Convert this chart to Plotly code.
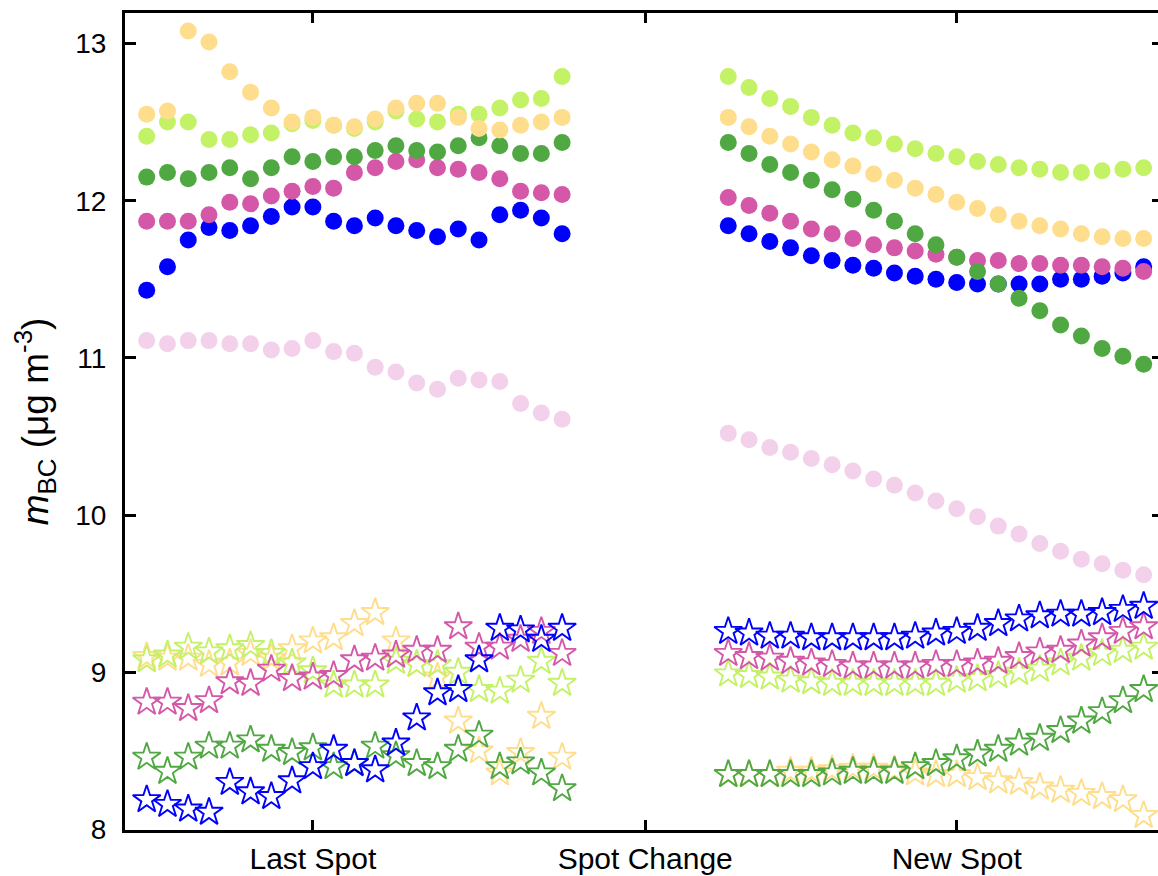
import plotly.graph_objects as go

# x positions (sample index) for the two measurement windows
x_last = list(range(0, 21))
x_new = list(range(28, 49))
tick_vals = [8, 24, 39]
tick_text = ["Last Spot", "Spot Change", "New Spot"]
y_ticks = [8, 9, 10, 11, 12, 13]

# ---- filled circles ----
blue_circ_last = [11.43, 11.58, 11.75, 11.83, 11.81, 11.84, 11.90, 11.96, 11.96, 11.87, 11.84, 11.89, 11.84, 11.81, 11.77, 11.82, 11.75, 11.91, 11.94, 11.89, 11.79]
blue_circ_new = [11.84, 11.79, 11.74, 11.70, 11.65, 11.62, 11.59, 11.57, 11.54, 11.52, 11.50, 11.48, 11.47, 11.47, 11.47, 11.47, 11.50, 11.50, 11.52, 11.54, 11.58]
mag_circ_last = [11.87, 11.87, 11.87, 11.91, 11.99, 11.98, 12.03, 12.06, 12.09, 12.08, 12.18, 12.21, 12.25, 12.26, 12.21, 12.20, 12.18, 12.14, 12.06, 12.05, 12.04]
mag_circ_new = [12.02, 11.97, 11.92, 11.87, 11.82, 11.79, 11.76, 11.72, 11.70, 11.68, 11.66, 11.64, 11.62, 11.62, 11.60, 11.60, 11.59, 11.59, 11.58, 11.57, 11.55]
dgreen_circ_last = [12.15, 12.18, 12.14, 12.18, 12.21, 12.14, 12.21, 12.28, 12.25, 12.28, 12.28, 12.32, 12.35, 12.32, 12.31, 12.35, 12.40, 12.35, 12.30, 12.30, 12.37]
dgreen_circ_new = [12.37, 12.30, 12.23, 12.18, 12.13, 12.07, 12.01, 11.94, 11.87, 11.79, 11.72, 11.64, 11.55, 11.47, 11.38, 11.30, 11.21, 11.14, 11.06, 11.01, 10.96]
lgreen_circ_last = [12.41, 12.50, 12.50, 12.39, 12.39, 12.42, 12.43, 12.49, 12.51, 12.48, 12.46, 12.50, 12.57, 12.52, 12.50, 12.55, 12.55, 12.59, 12.64, 12.65, 12.79]
lgreen_circ_new = [12.79, 12.72, 12.65, 12.60, 12.53, 12.48, 12.43, 12.40, 12.36, 12.33, 12.30, 12.28, 12.25, 12.23, 12.21, 12.20, 12.18, 12.18, 12.19, 12.20, 12.21]
orange_circ_last = [12.55, 12.57, 13.08, 13.01, 12.82, 12.69, 12.59, 12.50, 12.53, 12.48, 12.47, 12.52, 12.59, 12.62, 12.62, 12.53, 12.46, 12.45, 12.48, 12.50, 12.53]
orange_circ_new = [12.53, 12.47, 12.41, 12.36, 12.31, 12.26, 12.22, 12.17, 12.13, 12.08, 12.04, 11.99, 11.95, 11.91, 11.87, 11.84, 11.82, 11.79, 11.77, 11.76, 11.76]
pink_circ_last = [11.11, 11.09, 11.11, 11.11, 11.09, 11.09, 11.05, 11.06, 11.11, 11.04, 11.03, 10.94, 10.91, 10.84, 10.80, 10.87, 10.86, 10.85, 10.71, 10.65, 10.61]
pink_circ_new = [10.52, 10.48, 10.43, 10.40, 10.36, 10.32, 10.28, 10.23, 10.19, 10.14, 10.09, 10.04, 9.99, 9.93, 9.88, 9.82, 9.77, 9.72, 9.69, 9.65, 9.62]

# ---- open stars ----
blue_star_last = [8.19, 8.16, 8.13, 8.11, 8.30, 8.24, 8.21, 8.31, 8.40, 8.51, 8.42, 8.38, 8.55, 8.71, 8.87, 8.89, 9.08, 9.28, 9.27, 9.21, 9.28]
blue_star_new = [9.26, 9.25, 9.23, 9.23, 9.22, 9.22, 9.22, 9.22, 9.22, 9.23, 9.25, 9.26, 9.28, 9.31, 9.34, 9.36, 9.37, 9.37, 9.38, 9.40, 9.42]
mag_star_last = [8.81, 8.81, 8.77, 8.82, 8.94, 8.93, 9.02, 8.96, 8.97, 8.98, 9.08, 9.09, 9.11, 9.14, 9.14, 9.29, 9.16, 9.16, 9.21, 9.26, 9.12]
mag_star_new = [9.12, 9.10, 9.09, 9.07, 9.06, 9.05, 9.04, 9.04, 9.04, 9.04, 9.05, 9.05, 9.06, 9.07, 9.10, 9.13, 9.14, 9.18, 9.22, 9.26, 9.29]
lgreen_star_last = [9.08, 9.11, 9.16, 9.13, 9.15, 9.17, 9.12, 9.06, 9.01, 8.92, 8.92, 8.92, 9.07, 9.05, 9.05, 9.00, 8.89, 8.88, 8.95, 9.07, 8.93]
lgreen_star_new = [8.99, 8.98, 8.97, 8.95, 8.94, 8.93, 8.93, 8.93, 8.93, 8.93, 8.93, 8.95, 8.96, 8.98, 9.00, 9.02, 9.06, 9.09, 9.12, 9.14, 9.16]
dgreen_star_last = [8.46, 8.37, 8.46, 8.53, 8.53, 8.57, 8.51, 8.49, 8.52, 8.40, 8.42, 8.53, 8.47, 8.42, 8.40, 8.51, 8.60, 8.40, 8.43, 8.36, 8.26]
dgreen_star_new = [8.35, 8.35, 8.35, 8.35, 8.35, 8.36, 8.37, 8.37, 8.37, 8.40, 8.42, 8.45, 8.48, 8.51, 8.55, 8.58, 8.63, 8.69, 8.75, 8.82, 8.89]
orange_star_last = [9.10, 9.09, 9.09, 9.05, 9.06, 9.12, 9.09, 9.15, 9.20, 9.22, 9.31, 9.38, 9.20, 9.05, 8.97, 8.69, 8.50, 8.36, 8.49, 8.72, 8.46]
orange_star_new = [8.35, 8.35, 8.35, 8.37, 8.37, 8.38, 8.39, 8.39, 8.38, 8.36, 8.35, 8.35, 8.33, 8.31, 8.30, 8.27, 8.25, 8.23, 8.21, 8.19, 8.09]

BLUE = "#0000ff"
MAG = "#d457a8"
DGREEN = "#50a842"
LGREEN = "#c4f266"
ORANGE = "#fedd8c"
PINK = "#f3d1ea"

x_all = x_last + x_new
fig = go.Figure()

def circles(vals_last, vals_new, color):
    fig.add_trace(go.Scatter(x=x_all, y=vals_last + vals_new, mode="markers",
                             marker=dict(symbol="circle", size=17, color=color, line=dict(width=0)),
                             showlegend=False, hoverinfo="skip"))

def stars(vals_last, vals_new, color):
    fig.add_trace(go.Scatter(x=x_all, y=vals_last + vals_new, mode="markers",
                             marker=dict(symbol="star-open", size=21, color=color, line=dict(width=1.9, color=color)),
                             showlegend=False, hoverinfo="skip"))

circles(pink_circ_last, pink_circ_new, PINK)
circles(blue_circ_last, blue_circ_new, BLUE)
circles(mag_circ_last, mag_circ_new, MAG)
circles(dgreen_circ_last, dgreen_circ_new, DGREEN)
circles(lgreen_circ_last, lgreen_circ_new, LGREEN)
circles(orange_circ_last, orange_circ_new, ORANGE)

stars(orange_star_last, orange_star_new, ORANGE)
stars(dgreen_star_last, dgreen_star_new, DGREEN)
stars(lgreen_star_last, lgreen_star_new, LGREEN)
stars(mag_star_last, mag_star_new, MAG)
stars(blue_star_last, blue_star_new, BLUE)

# dummy trace to anchor the right-hand tick axis
fig.add_trace(go.Scatter(x=[None], y=[None], yaxis="y2", showlegend=False, hoverinfo="skip"))

FONT = "Liberation Sans, Arial, sans-serif"
fig.update_layout(
    width=1158, height=876,
    margin=dict(l=125, r=0, t=13, b=46),
    paper_bgcolor="white", plot_bgcolor="white",
    font=dict(family=FONT, size=28, color="black"),
    xaxis=dict(range=[-1.045, 48.69], tickvals=tick_vals, ticktext=tick_text,
               ticks="inside", ticklen=10, tickwidth=3, tickcolor="black",
               showline=True, linewidth=3, linecolor="black", mirror="ticks",
               showgrid=False, zeroline=False, tickfont=dict(size=30),
               ticklabelstandoff=0),
    yaxis=dict(range=[7.997, 13.194], tickvals=y_ticks,
               ticks="inside", ticklen=11, tickwidth=3, tickcolor="black",
               showline=True, linewidth=3, linecolor="black",
               showgrid=False, zeroline=False, tickfont=dict(size=28),
               ticklabelstandoff=10,
               title=dict(text="<i>m</i><sub>BC</sub> (μg m<sup>-3</sup>)",
                          font=dict(size=37), standoff=16)),
    yaxis2=dict(range=[7.997, 13.194], tickvals=y_ticks, overlaying="y", side="right",
                ticks="inside", ticklen=6, tickwidth=3, tickcolor="black",
                showticklabels=False, showline=False, showgrid=False, zeroline=False),
)

fig.write_html("out.html")
